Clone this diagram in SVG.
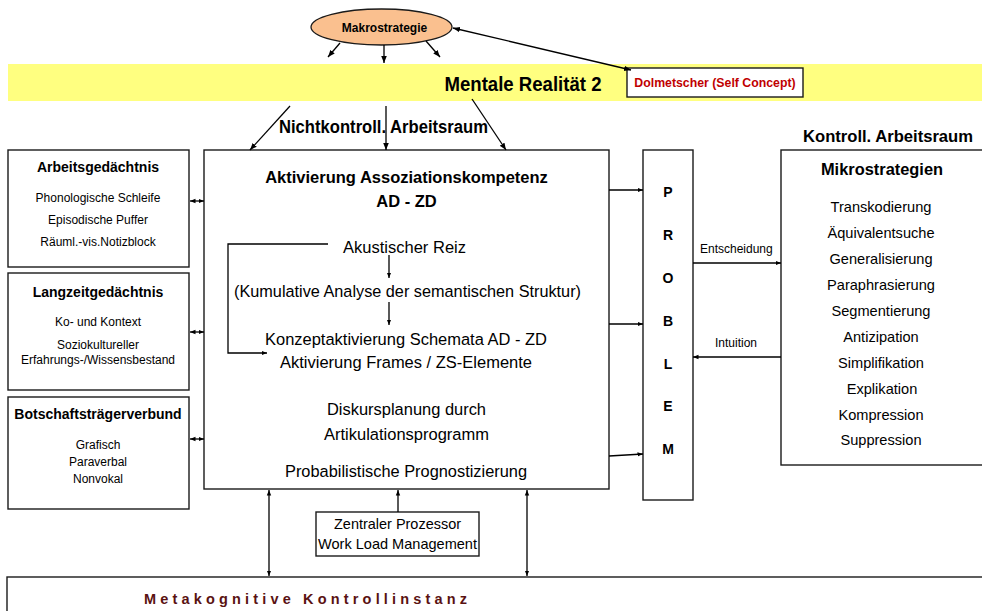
<svg xmlns="http://www.w3.org/2000/svg" width="982" height="611" viewBox="0 0 982 611">
<style>
text{font-family:"Liberation Sans",Arial,sans-serif;fill:#000}
.b{font-weight:bold}
.c{text-anchor:middle}
.box{fill:#fff;stroke:#1a1a1a;stroke-width:1.4}
.ln{stroke:#000;stroke-width:1.3;fill:none}
.s12{font-size:12px}
.s14{font-size:14px}
.s16{font-size:17.4px}
.h16{font-size:16.5px}
.m{font-size:14.6px}
</style>
<defs>
<marker id="ah" viewBox="0 0 10 10" refX="10" refY="5" markerWidth="7" markerHeight="7" markerUnits="userSpaceOnUse" orient="auto-start-reverse"><path d="M0,1 L10,5 L0,9 z" fill="#000"/></marker>
<marker id="as" viewBox="0 0 10 10" refX="10" refY="5" markerWidth="5.5" markerHeight="5.5" markerUnits="userSpaceOnUse" orient="auto-start-reverse"><path d="M0,1 L10,5 L0,9 z" fill="#000"/></marker>
</defs>

<rect id="band" x="8" y="64" width="980" height="37" fill="#FFFF80"/>

<g id="makrostrategie">
<ellipse cx="381.5" cy="27" rx="70.5" ry="18" fill="#FAC08F" stroke="#1a1a1a" stroke-width="1.3"/>
<text class="b c s12" x="384.5" y="32">Makrostrategie</text>
</g>

<g id="mentale">
<text class="b c" x="523" y="91" font-size="20.5" textLength="157" lengthAdjust="spacingAndGlyphs">Mentale Realität 2</text>
</g>

<g id="dolmetscher">
<rect class="box" x="627" y="68" width="176" height="29"/>
<text class="b c" x="715" y="87" font-size="12.3" style="fill:#C00000">Dolmetscher (Self Concept)</text>
</g>

<g id="nichtkontroll">
<text class="b" x="279" y="133" font-size="17.5" textLength="209" lengthAdjust="spacingAndGlyphs">Nichtkontroll. Arbeitsraum</text>
</g>

<g id="arbeitsgedaechtnis">
<rect class="box" x="8" y="150" width="181" height="117"/>
<text class="b c s14" x="98" y="172">Arbeitsgedächtnis</text>
<text class="c s12" x="98" y="202">Phonologische Schleife</text>
<text class="c s12" x="98" y="224">Episodische Puffer</text>
<text class="c s12" x="98" y="246">Räuml.-vis.Notizblock</text>
</g>

<g id="langzeitgedaechtnis">
<rect class="box" x="8" y="273" width="181" height="117"/>
<text class="b c s14" x="98" y="297">Langzeitgedächtnis</text>
<text class="c s12" x="98" y="326">Ko- und Kontext</text>
<text class="c s12" x="98" y="349">Soziokultureller</text>
<text class="c s12" x="98" y="364">Erfahrungs-/Wissensbestand</text>
</g>

<g id="botschaft">
<rect class="box" x="8" y="397" width="181" height="112"/>
<text class="b c s14" x="98" y="419">Botschaftsträgerverbund</text>
<text class="c s12" x="98" y="449">Grafisch</text>
<text class="c s12" x="98" y="466">Paraverbal</text>
<text class="c s12" x="98" y="483">Nonvokal</text>
</g>

<g id="aktivierung">
<rect class="box" x="204" y="150" width="405" height="339"/>
<text class="b c h16" x="406.5" y="183">Aktivierung Assoziationskompetenz</text>
<text class="b c h16" x="406.5" y="207">AD - ZD</text>
<text class="c s16" x="404.5" y="253" textLength="123" lengthAdjust="spacingAndGlyphs">Akustischer Reiz</text>
<text class="c s16" x="407.5" y="297" textLength="347" lengthAdjust="spacingAndGlyphs">(Kumulative Analyse der semantischen Struktur)</text>
<text class="c s16" x="406" y="345" textLength="282" lengthAdjust="spacingAndGlyphs">Konzeptaktivierung Schemata AD - ZD</text>
<text class="c s16" x="406" y="368" textLength="252" lengthAdjust="spacingAndGlyphs">Aktivierung Frames / ZS-Elemente</text>
<text class="c s16" x="406.5" y="415" textLength="159" lengthAdjust="spacingAndGlyphs">Diskursplanung durch</text>
<text class="c s16" x="406.5" y="440" textLength="165" lengthAdjust="spacingAndGlyphs">Artikulationsprogramm</text>
<text class="c s16" x="406" y="477" textLength="242" lengthAdjust="spacingAndGlyphs">Probabilistische Prognostizierung</text>
</g>

<g id="zentraler">
<rect class="box" x="316" y="512" width="163" height="44"/>
<text class="c" x="397.5" y="529" font-size="15" textLength="127" lengthAdjust="spacingAndGlyphs">Zentraler Prozessor</text>
<text class="c" x="397.5" y="549" font-size="15" textLength="159" lengthAdjust="spacingAndGlyphs">Work Load Management</text>
</g>

<g id="problem">
<rect class="box" x="643" y="150" width="50" height="350"/>
<text class="b c s14" x="668" y="197">P</text>
<text class="b c s14" x="668" y="240">R</text>
<text class="b c s14" x="668" y="283">O</text>
<text class="b c s14" x="668" y="326">B</text>
<text class="b c s14" x="668" y="369">L</text>
<text class="b c s14" x="668" y="411">E</text>
<text class="b c s14" x="668" y="454">M</text>
</g>

<g id="kontroll">
<text class="b" x="803" y="142" font-size="17" textLength="170" lengthAdjust="spacingAndGlyphs">Kontroll. Arbeitsraum</text>
</g>

<g id="mikrostrategien">
<rect class="box" x="781" y="150" width="210" height="315"/>
<text class="b c" x="882" y="175" font-size="16.4">Mikrostrategien</text>
<text class="c m" x="881" y="212">Transkodierung</text>
<text class="c m" x="881" y="238">Äquivalentsuche</text>
<text class="c m" x="881" y="264">Generalisierung</text>
<text class="c m" x="881" y="290">Paraphrasierung</text>
<text class="c m" x="881" y="316">Segmentierung</text>
<text class="c m" x="881" y="342">Antizipation</text>
<text class="c m" x="881" y="368">Simplifikation</text>
<text class="c m" x="882" y="394">Explikation</text>
<text class="c m" x="881" y="420">Kompression</text>
<text class="c m" x="881" y="445">Suppression</text>
</g>

<g id="metakognitiv">
<rect class="box" x="7" y="577" width="990" height="50"/>
<text class="b" x="144" y="604" font-size="14.5" textLength="323" lengthAdjust="spacing" style="fill:#5A1212">Metakognitive Kontrollinstanz</text>
</g>

<g id="connectors">
<line class="ln" x1="340" y1="43" x2="328" y2="57" marker-end="url(#ah)"/>
<line class="ln" x1="384" y1="45" x2="384" y2="63" marker-end="url(#ah)"/>
<line class="ln" x1="426" y1="41" x2="440" y2="57" marker-end="url(#ah)"/>
<line class="ln" x1="453" y1="28" x2="631" y2="70" marker-start="url(#ah)" marker-end="url(#ah)"/>
<line class="ln" x1="290" y1="106" x2="250" y2="150" marker-end="url(#ah)"/>
<line class="ln" x1="386" y1="106" x2="386" y2="150" marker-end="url(#ah)"/>
<line class="ln" x1="472" y1="99" x2="506" y2="150" marker-end="url(#ah)"/>
<line class="ln" x1="190" y1="201" x2="204" y2="201" marker-start="url(#as)" marker-end="url(#as)"/>
<line class="ln" x1="190" y1="332" x2="204" y2="332" marker-start="url(#as)" marker-end="url(#as)"/>
<line class="ln" x1="190" y1="439" x2="204" y2="439" marker-start="url(#as)" marker-end="url(#as)"/>
<path class="ln" d="M328,244 H228 V353 H267" marker-end="url(#as)"/>
<line class="ln" x1="389" y1="255" x2="389" y2="278" marker-end="url(#as)"/>
<line class="ln" x1="389" y1="302" x2="389" y2="325" marker-end="url(#as)"/>
<line class="ln" x1="609" y1="190" x2="643" y2="190" marker-end="url(#as)"/>
<line class="ln" x1="609" y1="324" x2="643" y2="324" marker-end="url(#as)"/>
<line class="ln" x1="609" y1="456" x2="643" y2="454" marker-end="url(#as)"/>
<line class="ln" x1="693" y1="263" x2="781" y2="263" marker-end="url(#as)"/>
<line class="ln" x1="781" y1="357" x2="693" y2="357" marker-end="url(#as)"/>
<line class="ln" x1="398" y1="512" x2="398" y2="490" marker-end="url(#as)"/>
<line class="ln" x1="269" y1="490" x2="269" y2="576" marker-start="url(#as)" marker-end="url(#as)"/>
<line class="ln" x1="527" y1="490" x2="527" y2="576" marker-start="url(#as)" marker-end="url(#as)"/>
<text class="s12" x="700" y="253">Entscheidung</text>
<text class="s12" x="715" y="347">Intuition</text>
</g>
</svg>
